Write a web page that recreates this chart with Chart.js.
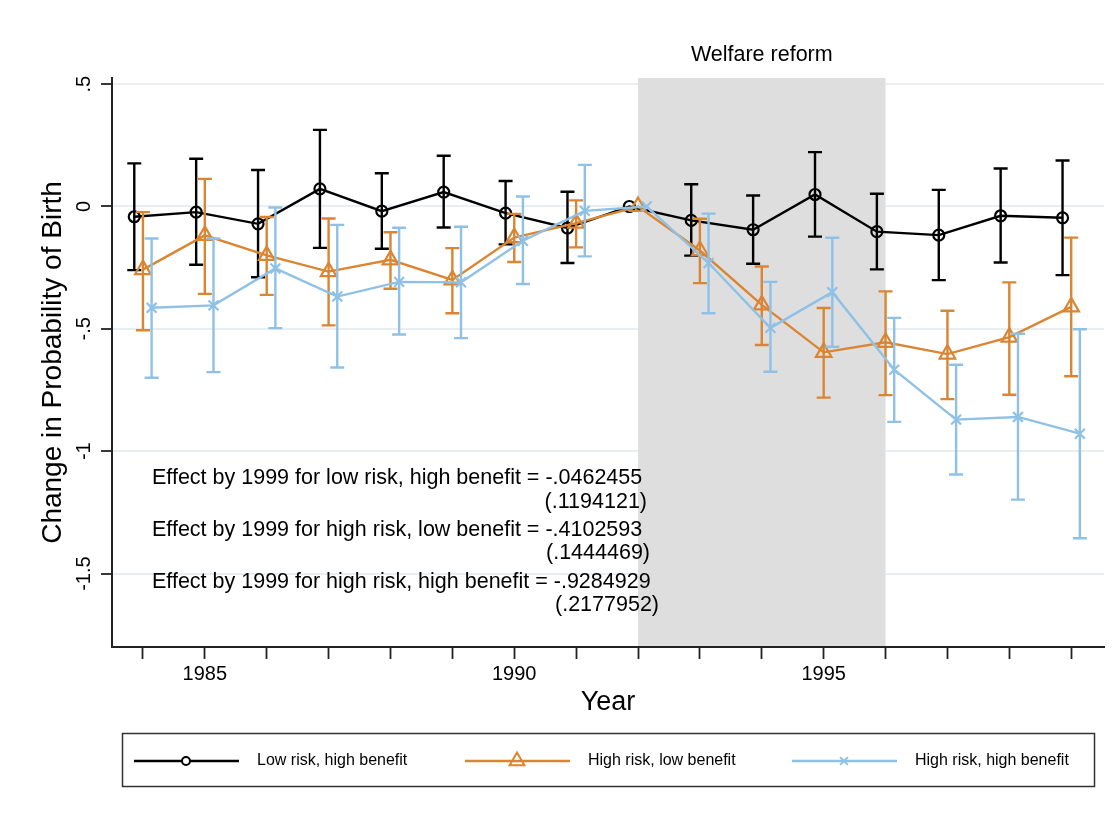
<!DOCTYPE html>
<html>
<head>
<meta charset="utf-8">
<title>Change in Probability of Birth</title>
<script src="https://cdn.jsdelivr.net/npm/chart.js@4.4.1/dist/chart.umd.min.js"></script>
<style>
  html, body { margin: 0; padding: 0; background: #fff; }
  #birthChart { display: block; }
</style>
</head>
<body>
<canvas id="birthChart" width="1120" height="814"></canvas>
<script>
const FONT = "'Liberation Sans', Arial, Helvetica, sans-serif";

const years = [1984, 1985, 1986, 1987, 1988, 1989, 1990, 1991, 1992, 1993, 1994, 1995, 1996, 1997, 1998, 1999];
const labeledYears = [1985, 1990, 1995];
const yTicks = [-1.5, -1, -0.5, 0, 0.5];
const yTickLabels = ['-1.5', '-1', '-.5', '0', '.5'];
const seriesNames = ['Low risk, high benefit', 'High risk, low benefit', 'High risk, high benefit'];

// point estimates with 95% bounds, 1992 is the reference year
const lowHighEst = [-0.042, -0.023, -0.071, 0.072, -0.019, 0.059, -0.027, -0.088, 0, -0.057, -0.095, 0.049, -0.103, -0.117, -0.038, -0.0462455];
const lowHighLo  = [-0.260, -0.238, -0.289, -0.169, -0.173, -0.086, -0.155, -0.231, 0, -0.201, -0.234, -0.123, -0.257, -0.301, -0.229, -0.2803];
const lowHighHi  = [0.176, 0.195, 0.149, 0.313, 0.136, 0.207, 0.104, 0.060, 0, 0.091, 0.045, 0.222, 0.052, 0.068, 0.155, 0.1878];

const highLowEst = [-0.258, -0.118, -0.200, -0.266, -0.218, -0.300, -0.127, -0.068, 0, -0.180, -0.402, -0.596, -0.555, -0.603, -0.534, -0.4102593];
const highLowLo  = [-0.506, -0.357, -0.361, -0.486, -0.336, -0.436, -0.227, -0.167, 0, -0.313, -0.566, -0.781, -0.771, -0.787, -0.769, -0.6934];
const highLowHi  = [-0.023, 0.113, -0.043, -0.049, -0.105, -0.170, -0.030, 0.025, 0, -0.050, -0.245, -0.415, -0.347, -0.426, -0.310, -0.1272];

const highHighEst = [-0.414, -0.404, -0.253, -0.368, -0.308, -0.310, -0.140, -0.018, 0, -0.231, -0.496, -0.350, -0.667, -0.871, -0.860, -0.9284929];
const highHighLo  = [-0.700, -0.677, -0.497, -0.658, -0.523, -0.538, -0.317, -0.204, 0, -0.436, -0.675, -0.573, -0.880, -1.095, -1.198, -1.3554];
const highHighHi  = [-0.131, -0.131, -0.004, -0.075, -0.087, -0.083, 0.041, 0.170, 0, -0.029, -0.308, -0.128, -0.455, -0.647, -0.520, -0.5016];

const reformStart = 1992;
const reformEnd = 1996;
const reformLabel = 'Welfare reform';

const effectLines = [
    'Effect by 1999 for low risk, high benefit = -.0462455',
    '(.1194121)',
    'Effect by 1999 for high risk, low benefit = -.4102593',
    '(.1444469)',
    'Effect by 1999 for high risk, high benefit = -.9284929',
    '(.2177952)'
];

// small horizontal shift so the three series don't sit on top of each other
const seriesShift = [-0.14, 0, 0.14];

function toPoints(est, shift) {
    return years.map((yr, i) => ({x: yr + shift, y: est[i]}));
}

function drawMarker(ctx, style, r, x, y) {
    ctx.beginPath();
    if (style === 'circle') {
        ctx.arc(x, y, r, 0, Math.PI * 2);
    } else if (style === 'triangle') {
        const s = Math.sin(Math.PI * 2 / 3) * r;
        ctx.moveTo(x, y - r);
        ctx.lineTo(x + s, y + r / 2);
        ctx.lineTo(x - s, y + r / 2);
        ctx.closePath();
    } else {
        const d = r * Math.SQRT1_2;
        ctx.moveTo(x - d, y - d);
        ctx.lineTo(x + d, y + d);
        ctx.moveTo(x + d, y - d);
        ctx.lineTo(x - d, y + d);
    }
    ctx.stroke();
}

// grey band for the reform years + its label
const reformShade = {
    id: 'reformShade',
    beforeDatasetsDraw(chart) {
        const {ctx, chartArea, scales: {x}} = chart;
        const x0 = x.getPixelForValue(reformStart);
        const x1 = x.getPixelForValue(reformEnd);
        ctx.save();
        ctx.fillStyle = '#dedede';
        ctx.fillRect(x0, chartArea.top, x1 - x0, chartArea.bottom - chartArea.top - 1);
        ctx.fillStyle = '#000';
        ctx.font = '21.5px ' + FONT;
        ctx.textAlign = 'center';
        ctx.textBaseline = 'middle';
        ctx.fillText(reformLabel, (x0 + x1) / 2, 55);
        ctx.restore();
    }
};

// capped confidence intervals, drawn together with each dataset
const errorBars = {
    id: 'errorBars',
    beforeDatasetDraw(chart, args) {
        const ds = chart.data.datasets[args.index];
        const y = chart.scales.y;
        const ctx = chart.ctx;
        ctx.save();
        ctx.strokeStyle = ds.borderColor;
        ctx.lineWidth = 2.4;
        args.meta.data.forEach((pt, i) => {
            if (ds.errLo[i] === ds.errHi[i]) return;
            const yLo = y.getPixelForValue(ds.errLo[i]);
            const yHi = y.getPixelForValue(ds.errHi[i]);
            ctx.beginPath();
            ctx.moveTo(pt.x, yLo);
            ctx.lineTo(pt.x, yHi);
            ctx.moveTo(pt.x - 7, yLo);
            ctx.lineTo(pt.x + 7, yLo);
            ctx.moveTo(pt.x - 7, yHi);
            ctx.lineTo(pt.x + 7, yHi);
            ctx.stroke();
        });
        ctx.restore();
    }
};

// y tick labels run vertically, chart.js only rotates x labels
const yTickText = {
    id: 'yTickText',
    afterDraw(chart) {
        const {ctx, scales: {y}} = chart;
        ctx.save();
        ctx.fillStyle = '#000';
        ctx.font = '20px ' + FONT;
        ctx.textAlign = 'center';
        ctx.textBaseline = 'middle';
        yTicks.forEach((v, i) => {
            ctx.save();
            ctx.translate(84, y.getPixelForValue(v));
            ctx.rotate(-Math.PI / 2);
            ctx.fillText(yTickLabels[i], 0, 0);
            ctx.restore();
        });
        ctx.restore();
    }
};

const effectNotes = {
    id: 'effectNotes',
    afterDraw(chart) {
        const ctx = chart.ctx;
        const rows = [478, 502, 530, 553, 582, 605];
        const rightEdge = [647, 650, 659];
        ctx.save();
        ctx.fillStyle = '#000';
        ctx.font = '21.5px ' + FONT;
        ctx.textBaseline = 'middle';
        effectLines.forEach((txt, i) => {
            if (i % 2 === 0) {
                ctx.textAlign = 'left';
                ctx.fillText(txt, 152, rows[i]);
            } else {
                ctx.textAlign = 'right';
                ctx.fillText(txt, rightEdge[(i - 1) / 2], rows[i]);
            }
        });
        ctx.restore();
    }
};

// boxed legend under the x axis title
const legendBox = {
    id: 'legendBox',
    afterDraw(chart) {
        const ctx = chart.ctx;
        const starts = [134, 465, 792];
        const cy = 761;
        ctx.save();
        ctx.strokeStyle = '#333';
        ctx.lineWidth = 1.5;
        ctx.strokeRect(122.5, 733.5, 972, 53);
        chart.data.datasets.forEach((ds, i) => {
            const x0 = starts[i];
            ctx.strokeStyle = ds.borderColor;
            ctx.lineWidth = 2.4;
            ctx.beginPath();
            ctx.moveTo(x0, cy);
            ctx.lineTo(x0 + 105, cy);
            ctx.stroke();
            ctx.fillStyle = '#fff';
            ctx.lineWidth = 2;
            if (ds.pointStyle === 'circle') {
                ctx.beginPath();
                ctx.arc(x0 + 52, cy, ds.legendRadius, 0, Math.PI * 2);
                ctx.fill();
            }
            drawMarker(ctx, ds.pointStyle, ds.legendRadius, x0 + 52, cy);
            ctx.fillStyle = '#000';
            ctx.font = '16px ' + FONT;
            ctx.textAlign = 'left';
            ctx.textBaseline = 'middle';
            ctx.fillText(ds.label, x0 + 123, cy);
        });
        ctx.restore();
    }
};

Chart.defaults.font.family = FONT;
Chart.defaults.color = '#000';

new Chart('birthChart', {
    type: 'line',
    data: {
        datasets: [
            {
                label: seriesNames[0],
                data: toPoints(lowHighEst, seriesShift[0]),
                errLo: lowHighLo,
                errHi: lowHighHi,
                borderColor: '#000000',
                borderWidth: 2.4,
                pointStyle: 'circle',
                pointRadius: 5.5,
                pointBorderWidth: 2.2,
                pointBackgroundColor: 'rgba(0,0,0,0)',
                pointBorderColor: '#000000',
                legendRadius: 4,
                tension: 0,
                fill: false,
                order: 3
            },
            {
                label: seriesNames[1],
                data: toPoints(highLowEst, seriesShift[1]),
                errLo: highLowLo,
                errHi: highLowHi,
                borderColor: '#da8532',
                borderWidth: 2.4,
                pointStyle: 'triangle',
                pointRadius: 9,
                pointBorderWidth: 2.2,
                pointBackgroundColor: 'rgba(0,0,0,0)',
                pointBorderColor: '#da8532',
                legendRadius: 8.5,
                tension: 0,
                fill: false,
                order: 2
            },
            {
                label: seriesNames[2],
                data: toPoints(highHighEst, seriesShift[2]),
                errLo: highHighLo,
                errHi: highHighHi,
                borderColor: '#8fc1e7',
                borderWidth: 2.4,
                pointStyle: 'crossRot',
                pointRadius: 7,
                pointBorderWidth: 2.2,
                pointBackgroundColor: 'rgba(0,0,0,0)',
                pointBorderColor: '#8fc1e7',
                legendRadius: 5.5,
                tension: 0,
                fill: false,
                order: 1
            }
        ]
    },
    options: {
        responsive: false,
        maintainAspectRatio: false,
        animation: false,
        devicePixelRatio: 1,
        events: [],
        layout: {
            padding: {top: 78, left: 0, right: 16, bottom: 0}
        },
        plugins: {
            legend: {display: false},
            tooltip: {enabled: false}
        },
        scales: {
            x: {
                type: 'linear',
                min: 1983.5,
                max: 1999.53,
                afterBuildTicks: (axis) => { axis.ticks = years.map(v => ({value: v})); },
                afterFit: (axis) => { axis.height = 167; },
                ticks: {
                    autoSkip: false,
                    maxRotation: 0,
                    minRotation: 0,
                    padding: 3,
                    font: {size: 20},
                    color: '#000',
                    callback: (v) => labeledYears.includes(v) ? String(v) : ''
                },
                grid: {
                    drawOnChartArea: false,
                    drawTicks: true,
                    tickLength: 12,
                    tickColor: '#222',
                    tickWidth: 1.8
                },
                border: {color: '#222', width: 2},
                title: {
                    display: true,
                    text: 'Year',
                    font: {size: 27},
                    color: '#000',
                    padding: {top: 0, bottom: 95}
                }
            },
            y: {
                type: 'linear',
                min: -1.8,
                max: 0.525,
                afterBuildTicks: (axis) => { axis.ticks = yTicks.map(v => ({value: v})); },
                afterFit: (axis) => { axis.width = 112; },
                ticks: {display: false},
                grid: {
                    color: '#e8eef2',
                    lineWidth: 2,
                    drawTicks: true,
                    tickLength: 11,
                    tickColor: '#222',
                    tickWidth: 1.8
                },
                border: {color: '#222', width: 2},
                title: {
                    display: true,
                    text: 'Change in Probability of Birth',
                    font: {size: 28},
                    color: '#000',
                    padding: {top: 36, bottom: 0}
                }
            }
        }
    },
    plugins: [reformShade, errorBars, yTickText, effectNotes, legendBox]
});
</script>
</body>
</html>
